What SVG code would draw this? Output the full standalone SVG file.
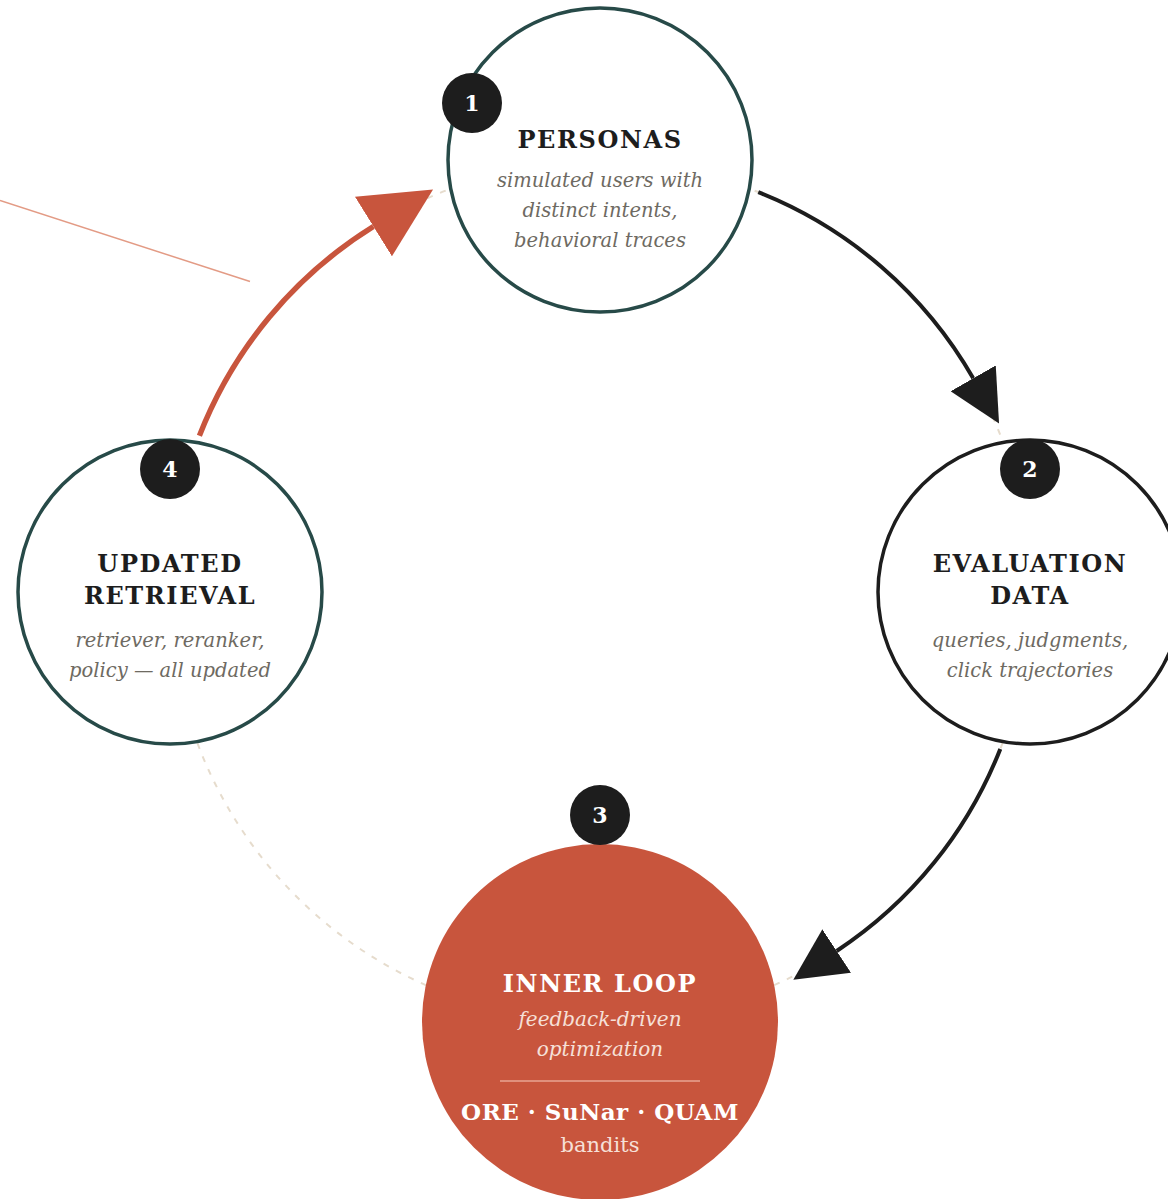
<svg xmlns="http://www.w3.org/2000/svg" width="1168" height="1199" viewBox="0 0 1168 1199">
  <defs>
    <style>
      .title { font-family: "DejaVu Serif", "Liberation Serif", serif; font-weight: bold; font-size: 24px; letter-spacing: 1.6px; fill: #1d1d1d; text-anchor: middle; }
      .sub { font-family: "DejaVu Serif", "Liberation Serif", serif; font-style: italic; font-size: 19.5px; fill: #6e6a62; text-anchor: middle; }
      .badge circle { fill: #1d1d1d; }
      .badge text { font-family: "DejaVu Serif", "Liberation Serif", serif; font-weight: bold; font-size: 22px; fill: #ffffff; text-anchor: middle; }
      .ring { fill: #ffffff; stroke-width: 3.5; }
      .teal { stroke: #274a48; }
      .dark { stroke: #1d1d1d; }
      .arc { fill: none; }
      .inner-title { font-family: "DejaVu Serif", "Liberation Serif", serif; font-weight: bold; font-size: 24px; letter-spacing: 1.6px; fill: #ffffff; text-anchor: middle; }
      .inner-sub { font-family: "DejaVu Serif", "Liberation Serif", serif; font-style: italic; font-size: 20px; fill: #f6e0d8; text-anchor: middle; }
      .inner-note { font-family: "DejaVu Serif", "Liberation Serif", serif; font-size: 21px; fill: #f6e0d8; text-anchor: middle; }
    </style>
    <!-- arrowheads scale with the stroke they sit on -->
    <marker id="head-dark" markerUnits="strokeWidth" viewBox="0 0 52 52" markerWidth="13" markerHeight="13" refX="0" refY="26" orient="auto">
      <path d="M0,0 L52,26 L0,52 Z" fill="#1d1d1d"/>
    </marker>
    <marker id="head-red" markerUnits="strokeWidth" viewBox="0 0 52 52" markerWidth="13" markerHeight="13" refX="0" refY="26" orient="auto">
      <path d="M0,0 L52,26 L0,52 Z" fill="#c8553d"/>
    </marker>
  </defs>

  <rect width="1168" height="1199" fill="#ffffff"/>

  <!-- faint pointer line at the upper left -->
  <line x1="0" y1="200.5" x2="250" y2="281.5" stroke="#e39b85" stroke-width="1.5"/>

  <!-- connectors: dashed orbit plus the three arcs between stages -->
  <g id="connectors">
    <circle cx="600" cy="592" r="430" fill="none" stroke="#e6dccd" stroke-width="2" stroke-dasharray="6 8"/>
    <path class="arc" stroke="#1d1d1d" stroke-width="4" marker-end="url(#head-dark)" d="M758.3,192.2 A430,430 0 0 1 973.2,378.3"/>
    <path class="arc" stroke="#1d1d1d" stroke-width="4" marker-end="url(#head-dark)" d="M1000.3,748.9 A430,430 0 0 1 836.7,951"/>
    <path class="arc" stroke="#c8553d" stroke-width="5.4" marker-end="url(#head-red)" d="M199.4,435.8 A430,430 0 0 1 373.4,226.5"/>
  </g>

  <!-- stage 1 -->
  <g id="node-personas">
    <circle class="ring teal" cx="600" cy="160" r="152"/>
    <text class="title" x="600" y="148">PERSONAS</text>
    <text class="sub" x="600" y="187">simulated users with</text>
    <text class="sub" x="600" y="217">distinct intents,</text>
    <text class="sub" x="600" y="247">behavioral traces</text>
    <g class="badge"><circle cx="472" cy="103" r="30"/><text x="472" y="111">1</text></g>
  </g>

  <!-- stage 2 -->
  <g id="node-evaluation">
    <circle class="ring dark" cx="1030" cy="592" r="152"/>
    <text class="title" x="1030" y="572">EVALUATION</text>
    <text class="title" x="1030" y="604">DATA</text>
    <text class="sub" x="1030" y="647">queries, judgments,</text>
    <text class="sub" x="1030" y="677">click trajectories</text>
    <g class="badge"><circle cx="1030" cy="469" r="30"/><text x="1030" y="477">2</text></g>
  </g>

  <!-- stage 3 -->
  <g id="node-inner-loop">
    <circle cx="600" cy="1022" r="178" fill="#c8553d"/>
    <text class="inner-title" x="600" y="992">INNER LOOP</text>
    <text class="inner-sub" x="600" y="1026">feedback-driven</text>
    <text class="inner-sub" x="600" y="1056">optimization</text>
    <line x1="500" y1="1081" x2="700" y2="1081" stroke="#e9a593" stroke-width="1.5"/>
    <text class="inner-title" x="600" y="1120" style="font-size:23px;letter-spacing:0.5px">ORE · SuNar · QUAM</text>
    <text class="inner-note" x="600" y="1152">bandits</text>
    <g class="badge"><circle cx="600" cy="815" r="30"/><text x="600" y="823">3</text></g>
  </g>

  <!-- stage 4 -->
  <g id="node-updated">
    <circle class="ring teal" cx="170" cy="592" r="152"/>
    <text class="title" x="170" y="572">UPDATED</text>
    <text class="title" x="170" y="604">RETRIEVAL</text>
    <text class="sub" x="170" y="647">retriever, reranker,</text>
    <text class="sub" x="170" y="677">policy — all updated</text>
    <g class="badge"><circle cx="170" cy="469" r="30"/><text x="170" y="477">4</text></g>
  </g>
</svg>
